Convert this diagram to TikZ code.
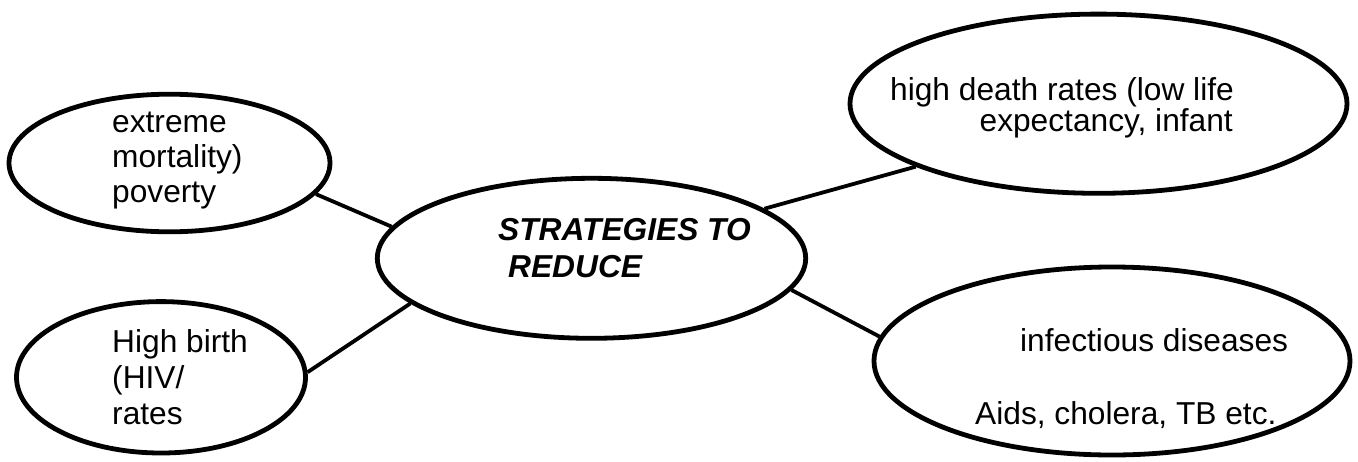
\documentclass[tikz,border=0pt]{standalone}
\usepackage{fontspec}
\setmainfont{Liberation Sans}
\usetikzlibrary{shapes.geometric}
\begin{document}
\begin{tikzpicture}[x=1pt,y=-1pt,
  bubble/.style={draw, ellipse, line width=4.8pt, inner sep=0pt},
  link/.style={line width=3.8pt},
  txt/.style={inner sep=0pt, anchor=base west, font=\fontsize{31.7}{35.5}\selectfont},
  ttl/.style={txt, font=\fontsize{31.7}{35.5}\selectfont\bfseries\itshape}]
\useasboundingbox (0,0) rectangle (1358,461);
\node[bubble, minimum width=321pt, minimum height=137.6pt] (e1) at (169.5,163) {};
\node[bubble, minimum width=289pt, minimum height=151.4pt] (e2) at (161,377.3) {};
\node[bubble, minimum width=428.4pt, minimum height=160pt] (e3) at (591.5,258.3) {};
\node[bubble, minimum width=497pt, minimum height=179.2pt] (e4) at (1098.5,103.7) {};
\node[bubble, minimum width=476pt, minimum height=188pt] (e5) at (1112,361) {};
% texts
\node[txt] (t1a) at (112,132) {extreme};
\node[txt] (t1b) at (112,167.5) {mortality)};
\node[txt] (t1c) at (112,202) {poverty};
\node[txt] (t2a) at (112,352.7) {High birth};
\node[txt] (t2b) at (112,388) {(HIV/};
\node[txt] (t2c) at (112,424) {rates};
\node[ttl] (t3a) at (498,240.7) {STRATEGIES TO};
\node[ttl] (t3b) at (508,277.3) {REDUCE};
\node[txt] (t4a) at (890,100) {high death rates (low life};
\node[txt, anchor=base east] (t4b) at (1233,131) {expectancy, infant};
\node[txt] (t5a) at (1020,351) {infectious diseases};
\node[txt] (t5b) at (975,424.5) {Aids, cholera, TB etc.};
% connectors
\draw[link] (e1.-12.2) -- (e3.171.9);
\draw[link] (e2.2.2) -- (e3.-166.7);
\draw[link] (e3.16.65) -- (e4.-161.4);
\draw[link] (e3.-9.9) -- (e5.174.2);
\end{tikzpicture}
\end{document}
